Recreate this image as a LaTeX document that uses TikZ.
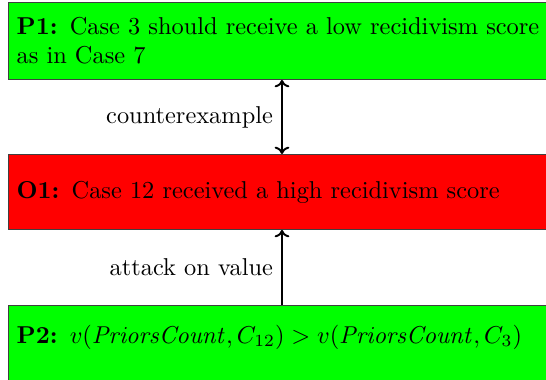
\documentclass[tikz,border=0pt]{standalone}
\usetikzlibrary{arrows.meta}
\definecolor{boxgreen}{HTML}{00FF00}
\definecolor{boxred}{HTML}{FF0000}
\tikzset{
  argbox/.style={draw=black!75, line width=0.4pt, rectangle, anchor=north west,
    text width=218pt, align=left, inner sep=3.33pt, font=\fontsize{10}{12}\selectfont},
  conn/.style={thick, -{To[length=3pt,width=6pt]}},
  lbl/.style={font=\fontsize{10}{12}\selectfont, inner sep=3.33pt}
}
\begin{document}
\begin{tikzpicture}[x=0.41pt, y=-0.41pt]
\useasboundingbox (0,0) rectangle (546,380);
\clip (0,0) rectangle (546,380);
\node[argbox, fill=boxgreen, minimum height=31.57pt] (p1) at (8,2)
  {\textbf{P1:} Case 3 should receive a low recidivism score as in Case 7};
\node[argbox, fill=boxred, minimum height=30.75pt] (o1) at (8,154)
  {\textbf{O1:} Case 12 received a high recidivism score};
\node[argbox, fill=boxgreen, minimum height=42pt, text height=7.5pt, text depth=18.7pt] (p2) at (8,305)
  {\textbf{P2:} $v(\mathit{PriorsCount},C_{12}) > v(\mathit{PriorsCount},C_{3})$};
\coordinate (ax) at (282,0);
\draw[conn, {To[length=3pt,width=6pt]}-{To[length=3pt,width=6pt]}] (p1.south -| ax) -- node[lbl, left] (l1) {counterexample} (o1.north -| ax);
\draw[conn] (p2.north -| ax) -- node[lbl, left] (l2) {attack on value} (o1.south -| ax);
\end{tikzpicture}
\end{document}
